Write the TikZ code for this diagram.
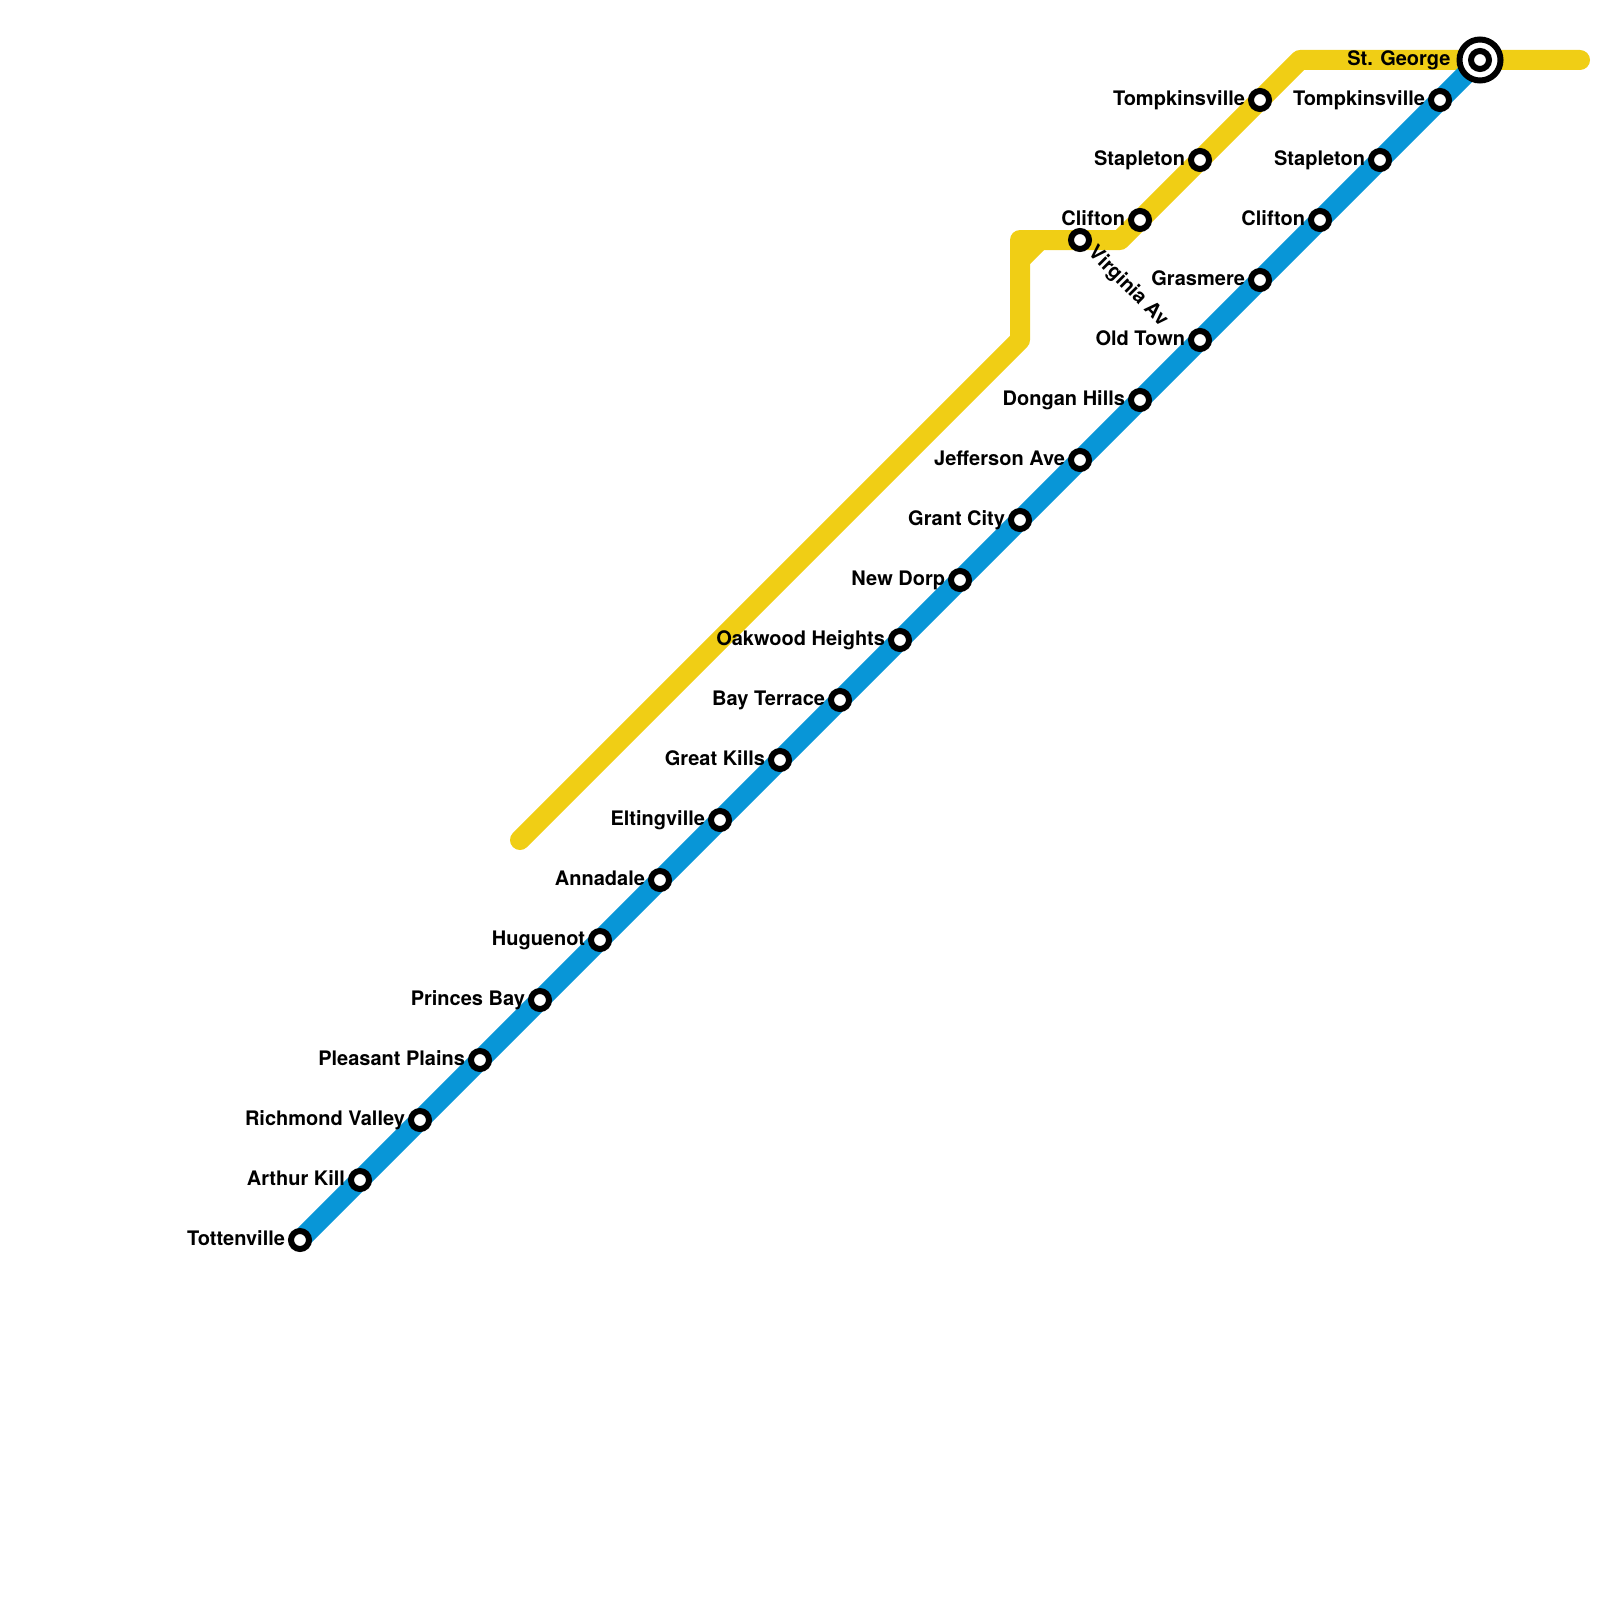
\documentclass[tikz,border=0pt]{standalone}
\usepackage{fontspec}
\setmainfont{TeX Gyre Heros}
\usetikzlibrary{backgrounds}
\definecolor{lineyellow}{HTML}{F0CE15}
\definecolor{lineblue}{HTML}{0896D7}
\tikzset{
  route/.style={line width=20pt,line cap=round,line join=round},
  stn/.style={circle,draw=black,fill=white,line width=6pt,inner sep=0pt,outer sep=0pt,minimum size=18pt},
  lbl/.style={inner sep=0pt,outer sep=0pt,text=black,font=\fontsize{20}{24}\selectfont\bfseries},
}
\begin{document}
\begin{tikzpicture}[x=1pt,y=-1pt]
\useasboundingbox (0,0) rectangle (1600,1600);
% blue line stations
\foreach \i/\x/\y/\t in {
 1/300/1240/Tottenville, 2/360/1180/Arthur Kill, 3/420/1120/Richmond Valley,
 4/480/1060/Pleasant Plains, 5/540/1000/Princes Bay, 6/600/940/Huguenot,
 7/660/880/Annadale, 8/720/820/Eltingville, 9/780/760/Great Kills,
 10/840/700/Bay Terrace, 11/900/640/Oakwood Heights, 12/960/580/New Dorp,
 13/1020/520/Grant City, 14/1080/460/Jefferson Ave, 15/1140/400/Dongan Hills,
 16/1200/340/Old Town, 17/1260/280/Grasmere, 18/1320/220/Clifton,
 19/1380/160/Stapleton, 20/1440/100/Tompkinsville}{
  \node[stn] (b\i) at (\x,\y) {};
  \node[lbl,anchor=base east] (bl\i) at (\x-15,\y+5.5) {\t};
}
% yellow line stations
\foreach \i/\x/\y/\t in {
 1/1140/220/Clifton, 2/1200/160/Stapleton, 3/1260/100/Tompkinsville}{
  \node[stn] (y\i) at (\x,\y) {};
  \node[lbl,anchor=base east] (yl\i) at (\x-15,\y+5.5) {\t};
}
\node[stn] (va) at (1080,240) {};
\node[lbl,anchor=base west,rotate=-45] (val) at (1087.4,253.8) {Virginia Av};
% terminal
\node[circle,draw=black,fill=white,line width=6pt,inner sep=0pt,outer sep=0pt,minimum size=41pt] (sgo) at (1480,60) {};
\node[stn] (sg) at (1480,60) {};
\node[lbl,anchor=base east] (sgl) at (1450.5,65.5) {St. George};
% routing points
\coordinate (ya) at (520,840);
\coordinate (yb) at (1020,340);
\coordinate (yc) at (1020,240);
\coordinate (yd) at (1120,240);
\coordinate (ye) at (1300,60);
\coordinate (yf) at (1580,60);
\coordinate (ch1) at (1020,260);
\coordinate (ch2) at (1040,240);
\begin{pgfonlayer}{background}
  \draw[route,lineyellow] (ya) -- (yb) -- (yc) -- (yd) -- (ye) -- (yf);
  \draw[route,lineyellow] (ch1) -- (ch2);
  \draw[route,lineblue] (b1.center) -- (sg.center);
\end{pgfonlayer}
\end{tikzpicture}
\end{document}
